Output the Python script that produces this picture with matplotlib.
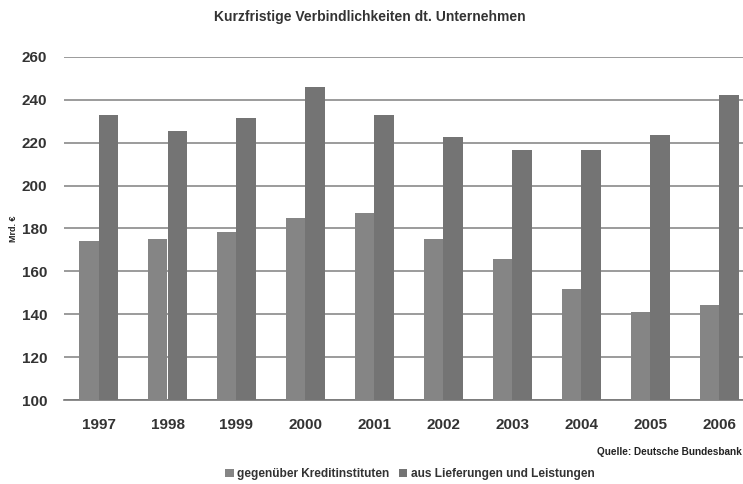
import matplotlib
matplotlib.use("Agg")
import matplotlib.pyplot as plt
import numpy as np

plt.rcParams['font.family'] = ['Liberation Sans', 'DejaVu Sans']

years = ["1997", "1998", "1999", "2000", "2001", "2002", "2003", "2004", "2005", "2006"]
kredit = [174, 175, 178.5, 185, 187, 175, 166, 152, 141, 144.5]
liefer = [233, 225.5, 231.5, 246, 233, 222.5, 216.5, 216.5, 223.5, 242.5]
yticks = [100, 120, 140, 160, 180, 200, 220, 240, 260]

W, H = 743, 484
fig = plt.figure(figsize=(W/100, H/100), dpi=100)
left, right, bottom, top = 64, 754, 400, 57
ax = fig.add_axes([left/W, 1 - bottom/H, (right-left)/W, (bottom-top)/H])

x = np.arange(len(years))
bw = 0.285
ax.bar(x - bw/2, kredit, bw, color='#858585', label='gegenüber Kreditinstituten', zorder=3)
ax.bar(x + bw/2, liefer, bw, color='#747474', label='aus Lieferungen und Leistungen', zorder=3)

ax.set_ylim(100, 260)
ax.set_xlim(-0.5, 9.5)
ax.set_yticks(yticks)
ax.set_xticks(x)
ax.set_xticklabels(years)
ax.yaxis.grid(True, color='#8a8a8a', linewidth=1.2, zorder=0)
for s in ['left', 'right', 'top']:
    ax.spines[s].set_visible(False)
ax.spines['bottom'].set_color('#777777')
ax.spines['bottom'].set_linewidth(1.2)
ax.tick_params(axis='both', length=0, labelsize=11, colors='#333333')
ax.tick_params(axis='y', pad=12)
ax.tick_params(axis='x', pad=13)
for lab in ax.get_xticklabels() + ax.get_yticklabels():
    lab.set_fontweight('bold')

fig.text(14/W, 1 - 229/H, 'Mrd. €', rotation=90, fontsize=6.5, fontweight='bold',
         color='#222222', ha='center', va='center')
fig.text(370/W, 1 - 17/H, 'Kurzfristige Verbindlichkeiten dt. Unternehmen', fontsize=10,
         fontweight='bold', color='#333333', ha='center', va='center')
fig.text(742/W, 1 - 452/H, 'Quelle: Deutsche Bundesbank', fontsize=7.2, fontweight='bold',
         color='#222222', ha='right', va='center')

leg = fig.legend(loc='center', bbox_to_anchor=(410/W, 1 - 474/H), ncol=2, frameon=False,
                 fontsize=8.6, handlelength=0.7, handleheight=0.7, handletextpad=0.3,
                 columnspacing=0.8, labelcolor='#333333')
for t in leg.get_texts():
    t.set_fontweight('bold')

fig.savefig('out.png', dpi=100)
